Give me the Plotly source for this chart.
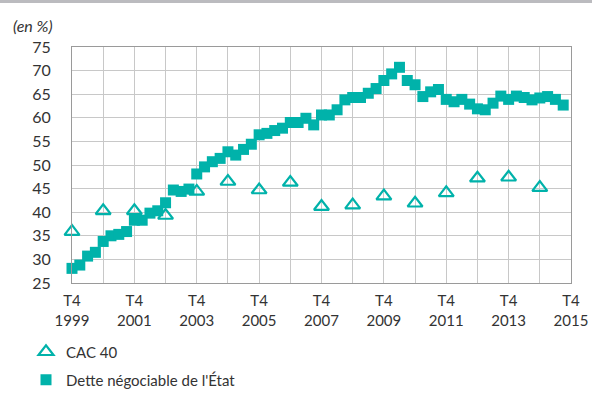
import plotly.graph_objects as go

# Quarterly data, T4 1999 .. T3 2015
dette_values = [28.1, 28.8, 30.7, 31.5, 33.8, 35.0, 35.3, 35.9, 38.3, 38.3,
                39.8, 40.3, 42.0, 44.7, 44.4, 44.9, 48.1, 49.6, 50.7, 51.4,
                52.8, 52.1, 53.3, 54.4, 56.4, 56.7, 57.3, 57.8, 59.0, 59.0,
                59.9, 58.5, 60.6, 60.6, 61.7, 63.8, 64.3, 64.3, 65.2, 66.2,
                67.9, 69.3, 70.7, 67.9, 67.0, 64.5, 65.5, 66.0, 63.9, 63.4,
                63.9, 62.9, 61.9, 61.7, 63.1, 64.6, 63.9, 64.6, 64.3, 63.8,
                64.2, 64.5, 63.9, 62.7]
dette_x = [1999 + 0.25 * i for i in range(len(dette_values))]

# Annual data, T4 1999 .. T4 2014
cac_years = list(range(1999, 2015))
cac_values = [35.9, 40.3, 40.3, 39.3, 44.4, 46.5, 44.7, 46.3,
              41.2, 41.5, 43.4, 41.9, 44.1, 47.2, 47.4, 45.2]

tick_years = list(range(1999, 2016))
tick_text = [f"T4<br>{y}" if (y - 1999) % 2 == 0 else "" for y in tick_years]

teal = "#00B2AA"
text_color = "#333333"
font_family = "Lato, 'Open Sans', sans-serif"

PLOT_L, PLOT_R, PLOT_T, PLOT_B = 72, 571, 47, 283
PW, PH = PLOT_R - PLOT_L, PLOT_B - PLOT_T


def px_x(px):
    return (px - PLOT_L) / PW


def px_y(py):
    return (PLOT_B - py) / PH


fig = go.Figure()
fig.add_trace(go.Scatter(
    x=cac_years, y=cac_values, mode="markers", name="CAC 40",
    marker=dict(symbol="triangle-up-open", size=13, color=teal,
                line=dict(width=2.2, color=teal)),
    cliponaxis=False, legend="legend",
))
fig.add_trace(go.Scatter(
    x=dette_x, y=dette_values, mode="markers", name="Dette négociable de l'État",
    marker=dict(symbol="square", size=11, color=teal, line=dict(width=0)),
    cliponaxis=False, legend="legend2",
))

legend_common = dict(xanchor="left", yanchor="middle",
                     font=dict(size=15, color=text_color, family=font_family),
                     bgcolor="rgba(0,0,0,0)", itemwidth=30)

fig.update_layout(
    width=592, height=401,
    margin=dict(l=PLOT_L, r=592 - PLOT_R, t=PLOT_T, b=401 - PLOT_B,
                autoexpand=False),
    paper_bgcolor="white", plot_bgcolor="white",
    font=dict(family=font_family, size=15, color=text_color),
    showlegend=True,
    legend=dict(x=px_x(26), y=px_y(352), **legend_common),
    legend2=dict(x=px_x(26), y=px_y(380), **legend_common),
    xaxis=dict(range=[1999, 2015], tickvals=tick_years, ticktext=tick_text,
               showgrid=True, gridcolor="#c8c8c8", gridwidth=1,
               showline=True, linecolor="#9a9a9a", linewidth=1, mirror=True,
               ticks="", zeroline=False, ticklabelstandoff=4,
               tickfont=dict(size=15, color=text_color)),
    yaxis=dict(range=[25, 75], dtick=5, tick0=25,
               showgrid=True, gridcolor="#c8c8c8", gridwidth=1,
               showline=True, linecolor="#9a9a9a", linewidth=1, mirror=True,
               ticks="", zeroline=False, ticklabelstandoff=17,
               tickfont=dict(size=16, color=text_color)),
    shapes=[dict(type="line", xref="paper", yref="paper",
                 x0=px_x(-5), x1=px_x(600), y0=px_y(1.5), y1=px_y(1.5),
                 line=dict(color="#bbbbbf", width=3))],
    annotations=[dict(text="<i>(en %)</i>", xref="paper", yref="paper",
                      x=px_x(55), y=px_y(25),
                      xanchor="right", yanchor="middle", showarrow=False,
                      font=dict(size=16, color=text_color))],
)

fig.write_html(
    "out.html",
    config={"displayModeBar": False},
    post_script="document.body.style.margin='0';document.body.style.padding='0';",
)
